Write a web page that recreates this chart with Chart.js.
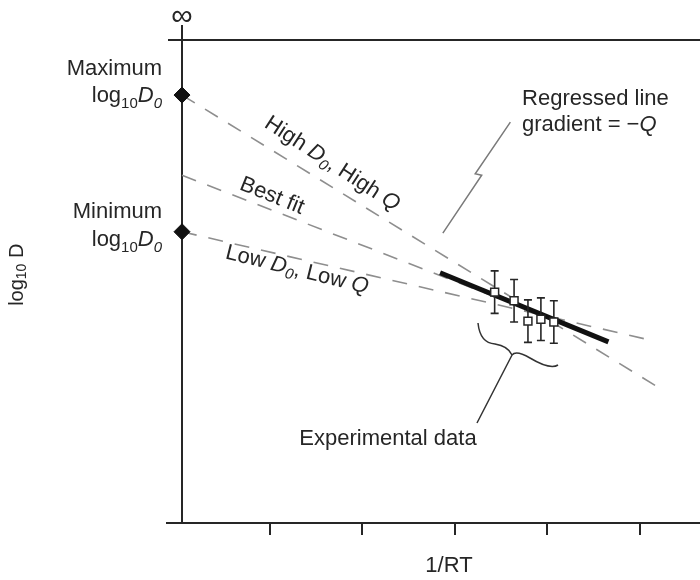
<!DOCTYPE html>
<html>
<head>
<meta charset="utf-8">
<script src="https://cdn.jsdelivr.net/npm/chart.js@4/dist/chart.umd.min.js"></script>
<style>
  html, body { margin: 0; padding: 0; background: #fff; }
  canvas { display: block; }
</style>
</head>
<body>
<canvas id="chart" width="700" height="580"></canvas>
<script>
// log10 D against 1/RT: bounding lines through D0 limits and a regressed fit

var xTicks = [1, 2, 3, 4, 5];

var highLine  = [{ x: 0.05, y: 8.86 }, { x: 5.19, y: 2.82 }];
var bestLine  = [{ x: 0.05, y: 7.20 }, { x: 4.66, y: 3.77 }];
var lowLine   = [{ x: 0.05, y: 6.03 }, { x: 5.06, y: 3.81 }];
var regressed = [{ x: 2.84, y: 5.18 }, { x: 4.66, y: 3.75 }];

var expX   = [3.43, 3.64, 3.79, 3.93, 4.07];
var expY   = [4.78, 4.60, 4.18, 4.22, 4.16];
var expErr = [0.44, 0.44, 0.44, 0.44, 0.44];

var d0Limits = [{ x: 0.05, y: 8.86 }, { x: 0.05, y: 6.03 }];

// annotation anchors (data units)
var regLeader = [{ x: 3.60, y: 8.30 }, { x: 3.22, y: 7.23 }, { x: 3.29, y: 7.20 }, { x: 2.87, y: 6.00 }];
var brace = {
    a:  { x: 3.250, y: 4.141 }, c1: { x: 3.272, y: 3.727 }, p1: { x: 3.434, y: 3.706 },
    c2: { x: 3.574, y: 3.665 }, tip: { x: 3.618, y: 3.478 }, c3: { x: 3.661, y: 3.582 },
    p2: { x: 3.812, y: 3.416 }, c4: { x: 4.028, y: 3.168 }, b: { x: 4.115, y: 3.271 }
};
var braceLeaderEnd = { x: 3.239, y: 2.070 };

var FONT = '"Liberation Sans", Arial, Helvetica, sans-serif';
var INK = '#262626';

function _font(size, italic) {
    return (italic ? 'italic ' : '') + size + 'px ' + FONT;
}

/**
 * Draw a run of text parts: [text, italic, subscript].
 */
function _drawRich(ctx, parts, x, y, align, size) {
    var subSize = Math.round(size * 0.68);
    var total = 0;
    parts.forEach(function(p) {
        ctx.font = _font(p[2] ? subSize : size, p[1]);
        total += ctx.measureText(p[0]).width;
    });
    var cx = x;
    if (align === 'right') cx = x - total;
    if (align === 'center') cx = x - total / 2;
    ctx.textAlign = 'left';
    parts.forEach(function(p) {
        ctx.font = _font(p[2] ? subSize : size, p[1]);
        ctx.fillText(p[0], cx, y + (p[2] ? size * 0.28 : 0));
        cx += ctx.measureText(p[0]).width;
    });
}

var labels = [
    { at: { x: 0.05,   y: 10.48 }, align: 'center', parts: [['\u221E']], size: 30, base: 'middle' },
    { at: { x: -0.166, y: 9.275 }, align: 'right',  parts: [['Maximum']] },
    { at: { x: -0.166, y: 8.716 }, align: 'right',  parts: [['log'], ['10', 0, 1], ['D', 1], ['0', 1, 1]] },
    { at: { x: -0.166, y: 6.315 }, align: 'right',  parts: [['Minimum']] },
    { at: { x: -0.166, y: 5.735 }, align: 'right',  parts: [['log'], ['10', 0, 1], ['D', 1], ['0', 1, 1]] },
    { at: { x: 3.726,  y: 8.654 }, align: 'left',   parts: [['Regressed line']] },
    { at: { x: 3.726,  y: 8.116 }, align: 'left',   parts: [['gradient = \u2212'], ['Q', 1]] },
    { at: { x: 2.277,  y: 1.615 }, align: 'center', parts: [['Experimental data']] },
    { at: { x: 2.936,  y: -1.014 }, align: 'center', parts: [['1/RT']] }
];

var lineLabels = [
    { at: { x: 1.672, y: 7.433 }, angle: 33, parts: [['High '], ['D', 1], ['0', 1, 1], [', High '], ['Q', 1]] },
    { at: { x: 1.023, y: 6.770 }, angle: 22, parts: [['Best fit']] },
    { at: { x: 1.293, y: 5.238 }, angle: 14, parts: [['Low '], ['D', 1], ['0', 1, 1], [', Low '], ['Q', 1]] }
];

var framePlugin = {
    id: 'frame',
    beforeDatasetsDraw: function(chart) {
        var ctx = chart.ctx;
        var a = chart.chartArea;
        var xs = chart.scales.x;
        ctx.save();
        ctx.strokeStyle = INK;
        ctx.lineWidth = 2;
        ctx.beginPath();
        ctx.moveTo(a.left - 14, a.top);
        ctx.lineTo(a.right, a.top);
        ctx.moveTo(a.left, a.top - 15);
        ctx.lineTo(a.left, a.bottom);
        ctx.moveTo(a.left - 16, a.bottom);
        ctx.lineTo(a.right, a.bottom);
        xTicks.forEach(function(t) {
            var px = Math.round(xs.getPixelForValue(t));
            ctx.moveTo(px, a.bottom);
            ctx.lineTo(px, a.bottom + 12);
        });
        ctx.stroke();
        ctx.restore();
    },
    beforeDatasetDraw: function(chart, args) {
        // error bars go under the square markers
        if (args.index !== 0) return;
        var ctx = chart.ctx;
        var xs = chart.scales.x, ys = chart.scales.y;
        ctx.save();
        ctx.strokeStyle = INK;
        ctx.lineWidth = 1.6;
        ctx.beginPath();
        expX.forEach(function(v, i) {
            var px = xs.getPixelForValue(v);
            var top = ys.getPixelForValue(expY[i] + expErr[i]);
            var bot = ys.getPixelForValue(expY[i] - expErr[i]);
            ctx.moveTo(px, top); ctx.lineTo(px, bot);
            ctx.moveTo(px - 4, top); ctx.lineTo(px + 4, top);
            ctx.moveTo(px - 4, bot); ctx.lineTo(px + 4, bot);
        });
        ctx.stroke();
        ctx.restore();
    },
    afterDatasetsDraw: function(chart) {
        var ctx = chart.ctx;
        var a = chart.chartArea;
        var xs = chart.scales.x, ys = chart.scales.y;
        function P(pt) { return [xs.getPixelForValue(pt.x), ys.getPixelForValue(pt.y)]; }
        ctx.save();

        // zig-zag leader to the regressed line
        ctx.strokeStyle = '#7a7a7a';
        ctx.lineWidth = 1.5;
        ctx.beginPath();
        regLeader.forEach(function(pt, i) {
            var p = P(pt);
            if (i === 0) ctx.moveTo(p[0], p[1]); else ctx.lineTo(p[0], p[1]);
        });
        ctx.stroke();

        // curly brace under the data + leader
        ctx.strokeStyle = '#333';
        ctx.lineWidth = 1.5;
        ctx.beginPath();
        var A = P(brace.a), C1 = P(brace.c1), P1 = P(brace.p1), C2 = P(brace.c2), T = P(brace.tip);
        var C3 = P(brace.c3), P2 = P(brace.p2), C4 = P(brace.c4), B = P(brace.b), E = P(braceLeaderEnd);
        ctx.moveTo(A[0], A[1]);
        ctx.quadraticCurveTo(C1[0], C1[1], P1[0], P1[1]);
        ctx.quadraticCurveTo(C2[0], C2[1], T[0], T[1]);
        ctx.moveTo(T[0], T[1]);
        ctx.quadraticCurveTo(C3[0], C3[1], P2[0], P2[1]);
        ctx.quadraticCurveTo(C4[0], C4[1], B[0], B[1]);
        ctx.moveTo(T[0], T[1]);
        ctx.lineTo(E[0], E[1]);
        ctx.stroke();

        // text
        ctx.fillStyle = INK;
        labels.forEach(function(l) {
            var p = P(l.at);
            ctx.textBaseline = l.base || 'alphabetic';
            _drawRich(ctx, l.parts, p[0], p[1], l.align, l.size || 22);
        });
        lineLabels.forEach(function(l) {
            var p = P(l.at);
            ctx.save();
            ctx.translate(p[0], p[1]);
            ctx.rotate(l.angle * Math.PI / 180);
            ctx.textBaseline = 'middle';
            _drawRich(ctx, l.parts, 0, 0, 'center', 22);
            ctx.restore();
        });

        // rotated y title
        ctx.save();
        ctx.translate(a.left - 165, ys.getPixelForValue(5.14));
        ctx.rotate(-Math.PI / 2);
        ctx.textBaseline = 'middle';
        _drawRich(ctx, [['log'], ['10', 0, 1], [' D']], 0, 0, 'center', 20);
        ctx.restore();

        ctx.restore();
    }
};

function _dashed(data) {
    return {
        data: data,
        showLine: true,
        borderColor: '#8e8e8e',
        borderWidth: 1.6,
        borderDash: [15, 12],
        pointRadius: 0,
        clip: false
    };
}

new Chart(document.getElementById('chart'), {
    type: 'scatter',
    data: {
        datasets: [
            {
                data: expX.map(function(v, i) { return { x: v, y: expY[i] }; }),
                pointStyle: 'rect',
                pointRadius: 5.6,
                backgroundColor: '#ffffff',
                borderColor: INK,
                borderWidth: 1.5,
                clip: false
            },
            {
                data: d0Limits,
                pointStyle: 'rectRot',
                pointRadius: 8,
                backgroundColor: '#111',
                borderColor: '#111',
                borderWidth: 1,
                clip: false
            },
            {
                data: regressed,
                showLine: true,
                borderColor: '#111',
                borderWidth: 5,
                pointRadius: 0
            },
            _dashed(highLine),
            _dashed(bestLine),
            _dashed(lowLine)
        ]
    },
    options: {
        responsive: false,
        animation: false,
        devicePixelRatio: 1,
        layout: { autoPadding: false, padding: { left: 182, right: 0, top: 40, bottom: 57 } },
        scales: {
            x: { type: 'linear', min: 0.05, max: 5.65, display: false },
            y: { type: 'linear', min: 0, max: 10, display: false }
        },
        plugins: {
            legend: { display: false },
            tooltip: { enabled: false }
        }
    },
    plugins: [framePlugin]
});
</script>
</body>
</html>
